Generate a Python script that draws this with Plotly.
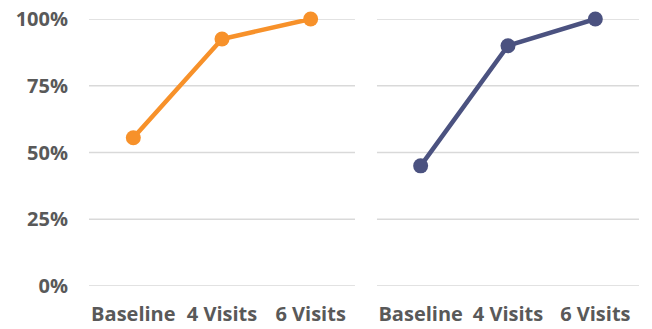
import plotly.graph_objects as go

# Visit stages and share of patients reaching the target, per group
stages = ["Baseline", "4 Visits", "6 Visits"]
group_a = [0.555, 0.925, 1.00]
group_b = [0.45, 0.90, 1.00]
y_ticks = [0, 0.25, 0.5, 0.75, 1.0]
y_tick_labels = ["0%", "25%", "50%", "75%", "100%"]

ORANGE = "#F7912A"
NAVY = "#4B5280"
GRID = "#D9D9D9"
TEXT = "#595959"
FONT = "Open Sans"

fig = go.Figure()
fig.add_trace(go.Scatter(
    x=stages, y=group_a, mode="lines+markers", xaxis="x", yaxis="y",
    line=dict(color=ORANGE, width=4.5),
    marker=dict(color=ORANGE, size=15),
    cliponaxis=False, showlegend=False,
))
fig.add_trace(go.Scatter(
    x=stages, y=group_b, mode="lines+markers", xaxis="x2", yaxis="y",
    line=dict(color=NAVY, width=4.5),
    marker=dict(color=NAVY, size=15),
    cliponaxis=False, showlegend=False,
))

xcommon = dict(
    type="category", range=[-0.5, 2.5], showgrid=False, zeroline=False,
    showline=False, ticks="", ticklabelstandoff=14, automargin=False,
    tickfont=dict(family=FONT, size=20, color=TEXT, weight="bold"),
    fixedrange=True,
)

# horizontal grid lines for both panels
grid_shapes = [
    dict(type="line", xref=f"{ax} domain", yref="y", x0=0, x1=1, y0=v, y1=v,
         line=dict(color=GRID, width=1.3), layer="below")
    for ax in ("x", "x2") for v in y_ticks
]

fig.update_layout(
    width=652, height=329,
    margin=dict(l=89, r=13, t=19, b=43),
    paper_bgcolor="white", plot_bgcolor="white",
    xaxis=dict(domain=[0, 0.4836], anchor="y", **xcommon),
    xaxis2=dict(domain=[0.5236, 1], anchor="y", **xcommon),
    yaxis=dict(
        range=[0, 1], tickvals=y_ticks, ticktext=y_tick_labels,
        showgrid=False, zeroline=False, showline=False, ticks="",
        ticklabelstandoff=20, automargin=False,
        tickfont=dict(family=FONT, size=20, color=TEXT, weight="bold"),
        fixedrange=True,
    ),
    shapes=grid_shapes,
)

fig.write_html("out.html")
